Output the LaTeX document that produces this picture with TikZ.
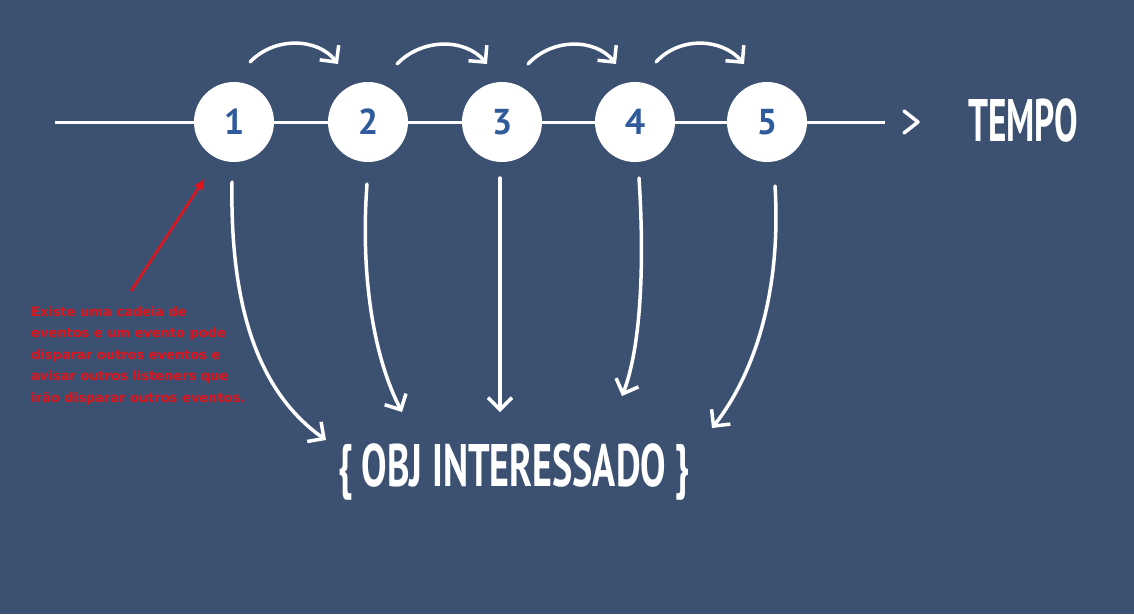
\documentclass[tikz,border=0pt]{standalone}
\usepackage{fontspec}
\setmainfont{DejaVu Sans}
\newfontfamily\condfont{PT Sans}
\newfontfamily\notefont{DejaVu Sans}
\usetikzlibrary{arrows.meta,calc}
\definecolor{board}{HTML}{3C5172}
\definecolor{digitblue}{HTML}{2F5B9C}
\definecolor{notered}{HTML}{E0141A}
\tikzset{
  evt/.style={circle, fill=white, minimum size=80pt, inner sep=0pt,
    font=\condfont\bfseries\fontsize{36}{36}\selectfont, text=digitblue},
  chalk/.style={draw=white, line width=3.5pt, line cap=round,
    -{Straight Barb[length=12pt,width=24pt,line width=3.5pt]}},
  tline/.style={draw=white, line width=3pt},
  bigtxt/.style={text=white, inner sep=0pt, font=\condfont\bfseries\fontsize{60}{60}\selectfont},
  note/.style={text=notered, align=left, anchor=north west, inner sep=0pt,
    font=\notefont\bfseries\fontsize{13}{21.5}\selectfont}
}
\begin{document}
\begin{tikzpicture}[x=1pt,y=-1pt]
\fill[board] (0,0) rectangle (1134,614);
\useasboundingbox (0,0) rectangle (1134,614);

% timeline
\coordinate (tstart) at (55,122);
\coordinate (tend) at (885,122);
\draw[tline] (tstart) -- (tend);
\coordinate (ch) at (918,122);
\draw[white, line width=3.5pt, line cap=round, line join=round]
  ($(ch)+(-14,-11)$) -- (ch) -- ($(ch)+(-14,11)$);

\node[evt] (c1) at (234,122) {1};
\node[evt] (c2) at (368,122) {2};
\node[evt] (c3) at (502,122) {3};
\node[evt] (c4) at (635,122) {4};
\node[evt] (c5) at (767,122) {5};

\node[bigtxt] (tempo) at (1023,120) {\resizebox{110pt}{\height}{TEMPO}};

% top arrows
\coordinate (a1s) at (250,62); \coordinate (a1e) at (338,64);
\coordinate (a2s) at (397,64); \coordinate (a2e) at (487,64);
\coordinate (a3s) at (528,64); \coordinate (a3e) at (616,64);
\coordinate (a4s) at (656,62); \coordinate (a4e) at (744,64);
\draw[chalk] (a1s) .. controls (275,36) and (318,38) .. (a1e);
\draw[chalk] (a2s) .. controls (422,38) and (465,38) .. (a2e);
\draw[chalk] (a3s) .. controls (552,38) and (595,38) .. (a3e);
\draw[chalk] (a4s) .. controls (680,36) and (722,38) .. (a4e);

% target
\node[bigtxt] (obj) at (514,472) {\resizebox{352pt}{\height}{\{ OBJ INTERESSADO \}}};

% down arrows
\coordinate (d1s) at (232,182); \coordinate (d1e) at (326,440);
\coordinate (d2s) at (367,184); \coordinate (d2e) at (402,412);
\coordinate (d3s) at (500,178); \coordinate (d3e) at (500,412);
\coordinate (d4s) at (639,178); \coordinate (d4e) at (622,396);
\coordinate (d5s) at (775,186); \coordinate (d5e) at (712,428);
\draw[chalk] (d1s) .. controls (230,300) and (255,390) .. (d1e);
\draw[chalk] (d2s) .. controls (360,280) and (375,360) .. (d2e);
\draw[chalk] (d3s) -- (d3e);
\draw[chalk] (d4s) .. controls (645,270) and (640,350) .. (d4e);
\draw[chalk] (d5s) .. controls (782,300) and (750,380) .. (d5e);

% note
\coordinate (rs) at (131,291);
\coordinate (re) at (205,178);
\draw[notered, line width=2.5pt, -{Latex[length=12pt,width=10pt]}] (rs) -- (re);
\node[note] (txt) at (31,306) {Existe uma cadeia de\\eventos e um evento pode\\disparar outros eventos e\\avisar outros listeners que\\irão disparar outros eventos.};
\end{tikzpicture}
\end{document}
